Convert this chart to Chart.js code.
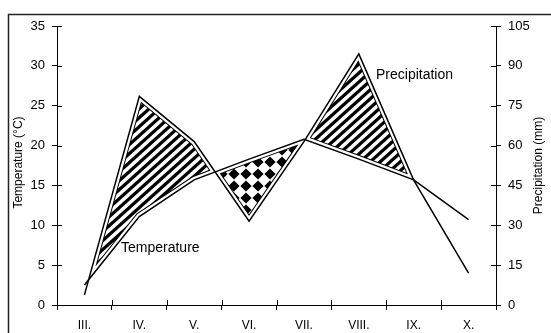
<!DOCTYPE html>
<html>
<head>
<meta charset="utf-8">
<script src="https://cdn.jsdelivr.net/npm/chart.js@4"></script>
<style>
html,body{margin:0;padding:0;background:#fff;}
#c{display:block;}
</style>
</head>
<body>
<canvas id="c" width="551" height="333" style="width:551px;height:333px"></canvas>
<script>
const months = ['III.', 'IV.', 'V.', 'VI.', 'VII.', 'VIII.', 'IX.', 'X.'];
const temperature = [2.5, 11.1, 15.7, 18.3, 20.8, 18.3, 15.7, 10.7];
const precipitation = [3.8, 78.5, 61.5, 31.5, 61.5, 94.5, 47, 12];
const tempTicks = [0, 5, 10, 15, 20, 25, 30, 35];
const precTicks = [0, 15, 30, 45, 60, 75, 90, 105];

const FONT = 'Liberation Sans, Arial, sans-serif';

function makeStripePattern(ctx) {
  const w = 10, h = 9;
  const c = document.createElement('canvas');
  c.width = w; c.height = h;
  const g = c.getContext('2d');
  g.fillStyle = '#fff'; g.fillRect(0, 0, w, h);
  g.strokeStyle = '#000'; g.lineWidth = 3.2;
  for (let k = -1; k <= 1; k++) {
    g.beginPath();
    g.moveTo(k * w - 2, h + 2 * h / w);
    g.lineTo(k * w + w + 2, -2 * h / w);
    g.stroke();
  }
  return ctx.createPattern(c, 'repeat');
}
function makeCheckPattern(ctx) {
  const s = 12, r = 5.6;
  const c = document.createElement('canvas');
  c.width = s; c.height = s;
  const g = c.getContext('2d');
  g.fillStyle = '#fff'; g.fillRect(0, 0, s, s);
  g.fillStyle = '#000';
  const cx = s / 2, cy = s / 2;
  g.beginPath();
  g.moveTo(cx, cy - r); g.lineTo(cx + r, cy); g.lineTo(cx, cy + r); g.lineTo(cx - r, cy);
  g.closePath(); g.fill();
  return ctx.createPattern(c, 'repeat');
}

const climatePlugin = {
  id: 'climate',
  beforeDraw(chart) {
    const ctx = chart.ctx;
    ctx.save();
    ctx.fillStyle = '#fff';
    ctx.fillRect(0, 0, chart.width, chart.height);
    ctx.restore();
  },
  beforeDatasetsDraw(chart) {
    const ctx = chart.ctx;
    const A = chart.getDatasetMeta(0).data.map(p => ({x: p.x, y: p.y}));
    const B = chart.getDatasetMeta(1).data.map(p => ({x: p.x, y: p.y}));
    const stripes = makeStripePattern(ctx);
    const checks = makeCheckPattern(ctx);
    const regions = [];
    let pa = [A[0]], pb = [B[0]];
    let s = Math.sign(A[0].y - B[0].y);
    let closedStart = false;
    for (let i = 0; i < A.length - 1; i++) {
      const d0 = A[i].y - B[i].y, d1 = A[i + 1].y - B[i + 1].y;
      if (d0 * d1 < 0) {
        const t = d0 / (d0 - d1);
        const P = {x: A[i].x + (A[i + 1].x - A[i].x) * t, y: A[i].y + (A[i + 1].y - A[i].y) * t};
        pa.push(P); pb.push(P);
        regions.push({poly: pa.concat(pb.slice().reverse()), s, inner: closedStart});
        pa = [P]; pb = [P]; s = Math.sign(d1); closedStart = true;
      }
      pa.push(A[i + 1]); pb.push(B[i + 1]);
    }
    // last open-ended region is left unfilled
    const gap = 3;
    regions.filter(r => r.inner).forEach(r => {
      ctx.save();
      ctx.beginPath();
      r.poly.forEach((p, k) => k ? ctx.lineTo(p.x, p.y) : ctx.moveTo(p.x, p.y));
      ctx.closePath();
      ctx.clip();
      ctx.fillStyle = r.s > 0 ? stripes : checks;
      ctx.fill();
      ctx.lineJoin = 'miter'; ctx.miterLimit = 30;
      ctx.strokeStyle = '#000'; ctx.lineWidth = 2 * (gap + 1); ctx.stroke();
      ctx.strokeStyle = '#fff'; ctx.lineWidth = 2 * gap; ctx.stroke();
      ctx.restore();
    });
  },
  afterDraw(chart) {
    const ctx = chart.ctx;
    const {x, y, y1} = chart.scales;
    ctx.save();
    ctx.strokeStyle = '#000';
    ctx.lineWidth = 1;
    ctx.beginPath();
    const n = months.length;
    for (let i = 0; i <= n; i++) {
      const px = Math.round(x.left + (x.right - x.left) * i / n) + 0.5;
      ctx.moveTo(px, x.top - 5); ctx.lineTo(px, x.top);
    }
    y.ticks.forEach((t, i) => {
      const py = Math.round(y.getPixelForTick(i)) + 0.5;
      ctx.moveTo(y.right, py); ctx.lineTo(y.right + 5, py);
    });
    y1.ticks.forEach((t, i) => {
      const py = Math.round(y1.getPixelForTick(i)) + 0.5;
      ctx.moveTo(y1.left - 5, py); ctx.lineTo(y1.left, py);
    });
    ctx.stroke();
    ctx.fillStyle = '#000';
    ctx.font = '14px ' + FONT;
    ctx.textBaseline = 'alphabetic';
    ctx.textAlign = 'left';
    ctx.fillText('Temperature', 121, 252);
    ctx.fillText('Precipitation', 376, 79);
    ctx.font = '12px ' + FONT;
    ctx.textAlign = 'center';
    ctx.textBaseline = 'middle';
    ctx.save();
    ctx.translate(19, (y.top + y.bottom) / 2 - 3);
    ctx.rotate(-Math.PI / 2);
    ctx.fillText('Temperature (°C)', 0, 0);
    ctx.restore();
    ctx.save();
    ctx.translate(539, (y1.top + y1.bottom) / 2);
    ctx.rotate(-Math.PI / 2);
    ctx.fillText('Precipitation (mm)', 0, 0);
    ctx.restore();
    ctx.strokeStyle = '#222';
    ctx.lineWidth = 1.5;
    ctx.strokeRect(8.5, 14.5, 700, 500);
    ctx.restore();
  }
};

new Chart(document.getElementById('c'), {
  type: 'line',
  data: {
    labels: months,
    datasets: [
      {label: 'Temperature', data: temperature, yAxisID: 'y', borderColor: '#000', borderWidth: 1.5,
       pointRadius: 0, tension: 0, fill: false},
      {label: 'Precipitation', data: precipitation, yAxisID: 'y1', borderColor: '#000', borderWidth: 1.5,
       pointRadius: 0, tension: 0, fill: false}
    ]
  },
  options: {
    responsive: false,
    animation: false,
    devicePixelRatio: 1,
    layout: {padding: {top: 26, left: 0, right: 0, bottom: 0}},
    plugins: {legend: {display: false}, tooltip: {enabled: false}},
    scales: {
      x: {
        type: 'category', offset: true,
        grid: {display: true, offset: true, drawOnChartArea: false, drawTicks: true, tickLength: 5, color: '#000'},
        border: {display: true, color: '#000', width: 1},
        ticks: {color: '#000', font: {family: FONT, size: 12}, padding: 8, maxRotation: 0, autoSkip: false},
        afterFit(s) { s.height = 28; }
      },
      y: {
        position: 'left', min: 0, max: 35,
        afterBuildTicks(s) { s.ticks = tempTicks.map(v => ({value: v})); },
        grid: {display: true, drawOnChartArea: false, drawTicks: true, tickLength: 5, color: '#000'},
        border: {display: true, color: '#000', width: 1},
        ticks: {color: '#000', font: {family: FONT, size: 13}, padding: 7},
        afterFit(s) { s.width = 57; }
      },
      y1: {
        position: 'right', min: 0, max: 105,
        afterBuildTicks(s) { s.ticks = precTicks.map(v => ({value: v})); },
        grid: {display: true, drawOnChartArea: false, drawTicks: true, tickLength: 5, color: '#000'},
        border: {display: true, color: '#000', width: 1},
        ticks: {color: '#000', font: {family: FONT, size: 13}, padding: 7},
        afterFit(s) { s.width = 55; }
      }
    }
  },
  plugins: [climatePlugin]
});
</script>
</body>
</html>
